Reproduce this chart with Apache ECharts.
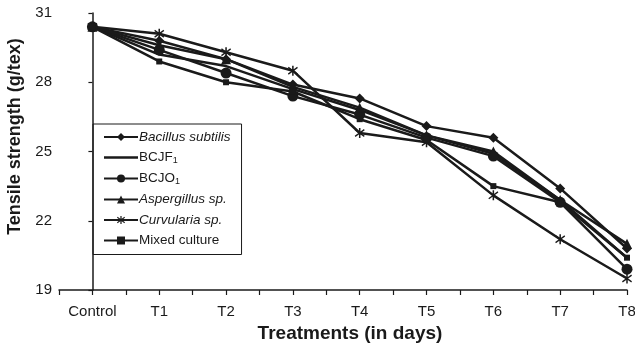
<!DOCTYPE html>
<html>
<head>
<meta charset="utf-8">
<script src="https://cdn.jsdelivr.net/npm/echarts@6/dist/echarts.min.js"></script>
<style>
  html, body { margin: 0; padding: 0; background: #fff; }
  #main { width: 635px; height: 344px; }
</style>
</head>
<body>
<div id="main"></div>
<script>
var chartDom = document.getElementById('main');
var myChart = echarts.init(chartDom);

// 数据
var categories = ['Control', 'T1', 'T2', 'T3', 'T4', 'T5', 'T6', 'T7', 'T8'];
var bacillus = [30.4, 29.8, 29.0, 27.9, 27.3, 26.1, 25.6, 23.4, 20.8];
var bcjf1 = [30.4, 29.2, 28.7, 27.7, 26.8, 25.7, 24.9, 22.9, 20.4];
var bcjo1 = [30.4, 29.4, 28.4, 27.4, 26.6, 25.6, 24.8, 22.8, 19.9];
var aspergillus = [30.4, 29.6, 29.0, 27.8, 26.9, 25.7, 25.0, 22.9, 21.0];
var curvularia = [30.4, 30.1, 29.3, 28.5, 25.8, 25.4, 23.1, 21.2, 19.5];
var mixed = [30.4, 28.9, 28.0, 27.6, 26.4, 25.5, 23.5, 22.8, 20.4];
var yTicks = [19, 22, 25, 28, 31];

var ink = '#1a1a1a';
var font = 'Liberation Sans, Arial, sans-serif';
// 星号标记
var asterisk = 'path://M4.3,0 L5.7,0 L5.7,10 L4.3,10 Z M0.4,2.2 L1.1,1 L9.6,7.8 L8.9,9 Z M8.9,1 L9.6,2.2 L1.1,9 L0.4,7.8 Z';
// 图例中只画一条线（无标记）
var plainLine = 'path://M0,0 L34,0 L34,0.01 Z M0,3.7 L34,3.7 L34,6.3 L0,6.3 Z M0,9.99 L34,9.99 L34,10 Z';

function pts(arr) {
  return arr.map(function (v, i) { return [i, v]; });
}

function line(name, arr, symbol, size) {
  return {
    name: name,
    type: 'line',
    data: pts(arr),
    symbol: symbol,
    symbolSize: size,
    showSymbol: symbol !== 'none',
    lineStyle: { color: ink, width: 2.5 },
    itemStyle: { color: ink, borderWidth: 0 },
    emphasis: { disabled: true }
  };
}

var option = {
  animation: false,
  grid: { left: 59, right: 8, top: 13, bottom: 54, outerBoundsMode: 'none' },
  legend: {
    orient: 'vertical',
    left: 93,
    top: 124,
    width: 149,
    padding: [6, 11, 7, 10],
    borderColor: ink,
    borderWidth: 1,
    itemWidth: 34,
    itemHeight: 10,
    itemGap: 6.5,
    textStyle: {
      color: ink,
      fontFamily: font,
      fontSize: 13.5,
      padding: [0, 0, 0, -4],
      rich: {
        i: { fontStyle: 'italic', fontFamily: font, fontSize: 13.5, color: ink },
        n: { fontFamily: font, fontSize: 13.5, color: ink },
        s: { fontFamily: font, fontSize: 9, color: ink, padding: [6, 0, 0, 0] }
      }
    },
    formatter: function (name) {
      if (name === 'BCJF1') return '{n|BCJF}{s|1}';
      if (name === 'BCJO1') return '{n|BCJO}{s|1}';
      if (name === 'Mixed culture') return '{n|Mixed culture}';
      return '{i|' + name + '}';
    },
    data: [
      'Bacillus subtilis',
      { name: 'BCJF1', icon: plainLine },
      'BCJO1',
      'Aspergillus sp.',
      'Curvularia sp.',
      'Mixed culture'
    ]
  },
  xAxis: {
    type: 'value',
    min: -0.5,
    max: 8,
    interval: 0.5,
    name: 'Treatments (in days)',
    nameLocation: 'middle',
    nameGap: 28,
    nameTextStyle: { color: ink, fontFamily: font, fontSize: 19, fontWeight: 'bold', padding: [0, 0, 0, 14] },
    axisLine: { lineStyle: { color: ink, width: 1.5 } },
    axisTick: { length: 5, lineStyle: { color: ink, width: 1.2 } },
    splitLine: { show: false },
    axisLabel: {
      color: ink,
      fontFamily: font,
      fontSize: 15,
      margin: 14,
      formatter: function (v) {
        return Number.isInteger(v) ? categories[v] : '';
      }
    }
  },
  yAxis: {
    type: 'value',
    min: yTicks[0],
    max: yTicks[yTicks.length - 1],
    interval: 3,
    name: 'Tensile strength (g/tex)',
    nameLocation: 'middle',
    nameRotate: 90,
    nameGap: 33,
    nameTextStyle: { color: ink, fontFamily: font, fontSize: 18, fontWeight: 'bold', padding: [0, 0, 0, 30] },
    axisLine: { show: true, lineStyle: { color: ink, width: 1.5 } },
    axisTick: { show: true, length: 4, lineStyle: { color: ink, width: 1.2 } },
    splitLine: { show: false },
    axisLabel: { color: ink, fontFamily: font, fontSize: 15, margin: 7 }
  },
  series: [
    line('Bacillus subtilis', bacillus, 'diamond', 10),
    line('BCJF1', bcjf1, 'none', 0),
    line('BCJO1', bcjo1, 'circle', 11),
    line('Aspergillus sp.', aspergillus, 'triangle', 10),
    line('Curvularia sp.', curvularia, asterisk, 10),
    line('Mixed culture', mixed, 'rect', 6)
  ]
};

option && myChart.setOption(option);
</script>
</body>
</html>
